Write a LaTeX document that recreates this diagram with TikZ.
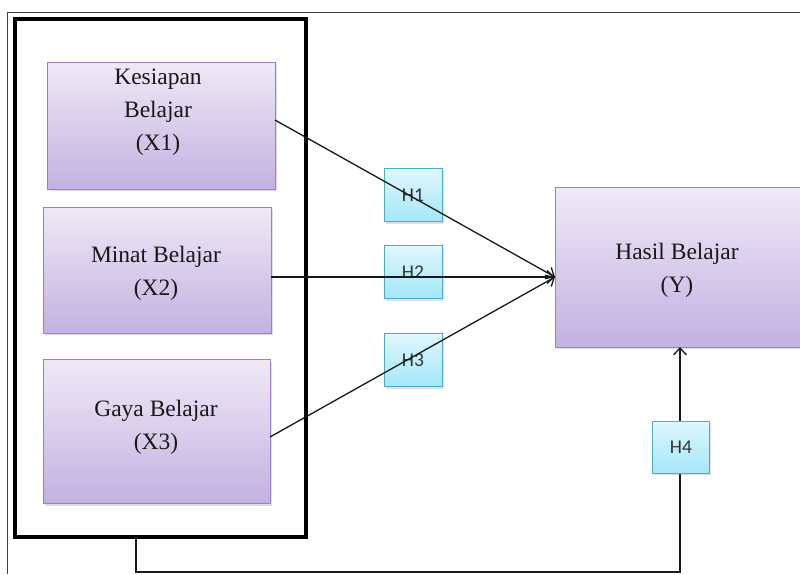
\documentclass[tikz,border=0pt]{standalone}
\usepackage{fontspec}
\setmainfont{Liberation Serif}
\newfontfamily\hfont{Carlito}
\usetikzlibrary{arrows.meta,shadows,positioning}
\definecolor{purpTop}{HTML}{EFE9F7}
\definecolor{purpBot}{HTML}{C3B1E1}
\definecolor{purpLine}{HTML}{9C80C2}
\definecolor{cyanTop}{HTML}{E0F7FE}
\definecolor{cyanBot}{HTML}{A3E7F8}
\definecolor{cyanLine}{HTML}{4AACC6}
\tikzset{
  varbox/.style={rectangle, draw=purpLine, line width=0.9pt, top color=purpTop, bottom color=purpBot, inner sep=0pt, drop shadow={opacity=0.25, shadow xshift=1.5pt, shadow yshift=-2pt}},
  hbox/.style={rectangle, draw=cyanLine, line width=0.9pt, top color=cyanTop, bottom color=cyanBot, inner sep=0pt, minimum width=58pt, minimum height=53pt, font=\hfont\fontsize{19.5}{22}\selectfont, text=black!80, drop shadow={opacity=0.25, shadow xshift=1.5pt, shadow yshift=-2pt}},
  vtext/.style={align=center, font=\fontsize{23.5}{33}\selectfont, text=black!90},
  conn/.style={line width=1.3pt, black!90},
  arr/.style={conn, -{Straight Barb[length=7pt, width=13pt, line width=1.3pt]}}
}
\begin{document}
\begin{tikzpicture}[x=1pt, y=-1pt]
\useasboundingbox (0,0) rectangle (800,574);
\clip (0,0) rectangle (800,574);
\fill[white] (0,0) rectangle (800,574);
% thin outer frame
\draw[line width=1pt, black!75] (7,574) -- (7,12) -- (800,12);
% thick group box
\node[rectangle, draw=black, line width=4pt, minimum width=291pt, minimum height=518pt, inner sep=0pt] (grp) at (160.5,277.5) {};
% variable boxes
\node[varbox, minimum width=228pt, minimum height=127pt] (x1) at (161,125.5) {};
\node[vtext] (x1t) at (158,112) {Kesiapan\\Belajar\\(X1)};
\node[varbox, minimum width=228pt, minimum height=126pt] (x2) at (157,270) {};
\node[vtext] (x2t) at (156,273) {Minat Belajar\\(X2)};
\node[varbox, minimum width=227pt, minimum height=144pt] (x3) at (157,431.5) {};
\node[vtext] (x3t) at (156,427) {Gaya Belajar\\(X3)};
\node[varbox, minimum width=248pt, minimum height=160pt] (y) at (679,267) {};
\node[vtext] (yt) at (677,270) {Hasil Belajar\\(Y)};
% hypothesis boxes
\node[hbox] (h1) at (413,195) {H1};
\node[hbox] (h2) at (413,272) {H2};
\node[hbox] (h3) at (413,360) {H3};
% connectors
\coordinate (x1e) at (275,120);
\coordinate (x2e) at (271,277);
\coordinate (x3e) at (270,437);
\coordinate (ye) at (555,277);
\draw[arr] (x1e) -- (ye);
\draw[arr] (x2e) -- (ye);
\draw[arr] (x3e) -- (ye);
\coordinate (gb) at (136,538);
\coordinate (yb) at (680,347);
\draw[conn, line width=1.1pt] (gb) -- (136,572) -- (680,572) -- (680,400);
\draw[arr, line width=1.1pt] (680,400) -- (yb);
\node[hbox, minimum width=57pt, minimum height=52pt] (h4) at (681,447) {H4};
\end{tikzpicture}
\end{document}
